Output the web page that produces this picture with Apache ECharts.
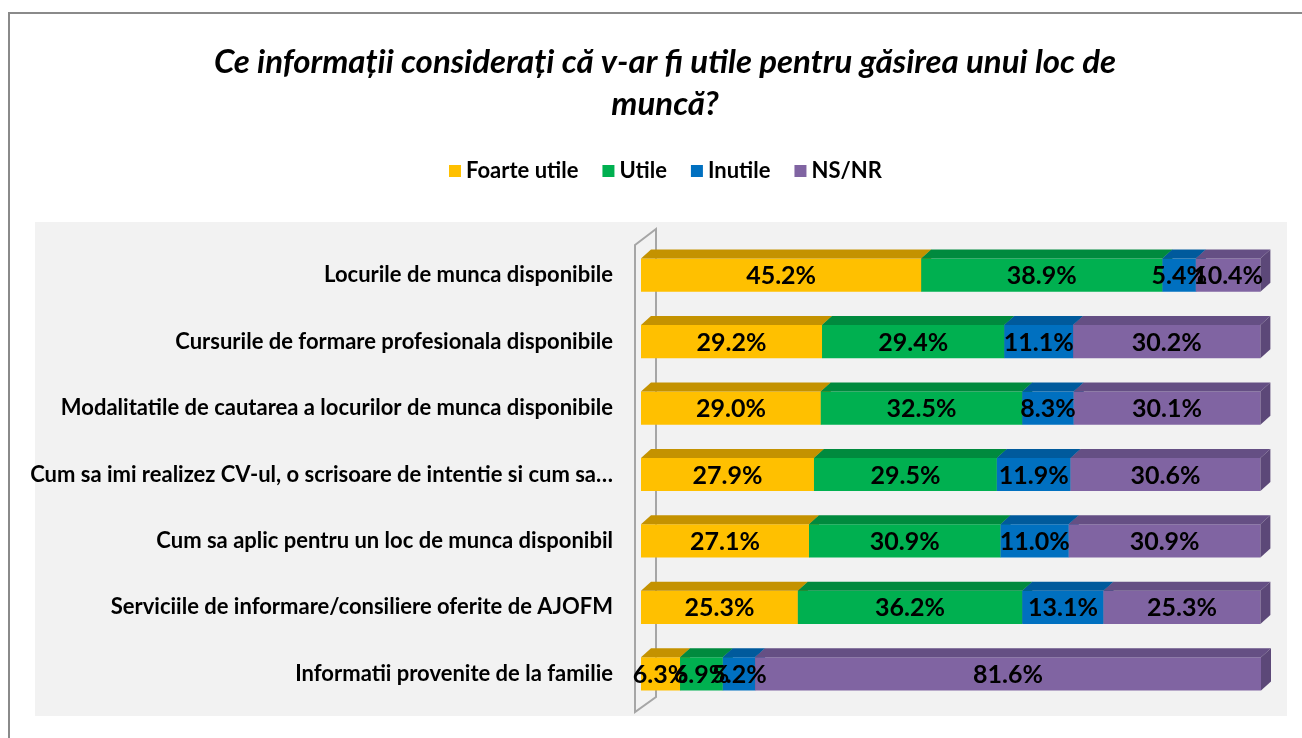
<!DOCTYPE html>
<html>
<head>
<meta charset="utf-8">
<script src="https://cdn.jsdelivr.net/npm/echarts@6/dist/echarts.min.js"></script>
<style>
  html, body { margin: 0; padding: 0; background: #fff; }
  #chart { width: 1302px; height: 738px; }
</style>
</head>
<body>
<div id="chart"></div>
<script>
// date
var categories = [
    'Locurile de munca disponibile',
    'Cursurile de formare profesionala disponibile',
    'Modalitatile de cautarea a locurilor de munca disponibile',
    'Cum sa imi realizez CV-ul, o scrisoare de intentie si cum sa…',
    'Cum sa aplic pentru un loc de munca disponibil',
    'Serviciile de informare/consiliere oferite de AJOFM',
    'Informatii provenite de la familie'
];
var seriesNames = ['Foarte utile', 'Utile', 'Inutile', 'NS/NR'];
var foarteUtile = [45.2, 29.2, 29.0, 27.9, 27.1, 25.3, 6.3];
var utile = [38.9, 29.4, 32.5, 29.5, 30.9, 36.2, 6.9];
var inutile = [5.4, 11.1, 8.3, 11.9, 11.0, 13.1, 5.2];
var nsnr = [10.4, 30.2, 30.1, 30.6, 30.9, 25.3, 81.6];

var frontColors = ['#FFC000', '#00B050', '#0070C0', '#8064A2'];
var topColors = ['#C49200', '#008A3E', '#005A9C', '#654F84'];
var sideColors = ['#B88800', '#007F38', '#00528E', '#5C4878'];

var chart = echarts.init(document.getElementById('chart'));
var allValues = [foarteUtile, utile, inutile, nsnr];
var DX = 10, DY = 9;

/*stivuire manuala: [start, end, categorie, valoare]*/
var stacked = allValues.map(function (vals, s) {
    return vals.map(function (v, i) {
        var start = 0;
        for (var k = 0; k < s; k++) { start += allValues[k][i]; }
        return [start, start + v, i, v];
    });
});

function makeRender(s) {
    return function (params, api) {
        var cat = api.value(2);
        var p0 = api.coord([api.value(0), cat]);
        var p1 = api.coord([api.value(1), cat]);
        var h = api.size([0, 1])[1] * 0.5;
        var x0 = p0[0], x1 = p1[0], yT = p0[1] - h / 2, yB = p0[1] + h / 2;
        var children = [
            { type: 'rect', shape: { x: x0, y: yT, width: x1 - x0, height: h }, style: { fill: frontColors[s] } },
            { type: 'polygon', shape: { points: [[x0, yT], [x0 + DX, yT - DY], [x1 + DX, yT - DY], [x1, yT]] }, style: { fill: topColors[s] } },
            { type: 'polygon', shape: { points: [[x1, yT], [x1 + DX, yT - DY], [x1 + DX, yB - DY], [x1, yB]] }, style: { fill: sideColors[s] } },
            {
                type: 'text', z2: 100,
                style: {
                    x: (x0 + x1) / 2, y: p0[1] + 1,
                    text: api.value(3).toFixed(1) + '%',
                    align: 'center', verticalAlign: 'middle',
                    fill: '#000', font: 'bold 25px Lato'
                }
            }
        ];
        return { type: 'group', children: children };
    };
}

var series = seriesNames.map(function (name, s) {
    return {
        name: name,
        type: 'custom',
        renderItem: makeRender(s),
        encode: { x: [0, 1], y: 2 },
        data: stacked[s],
        itemStyle: { color: frontColors[s] },
        animation: false,
        silent: true
    };
});

var option = {
    backgroundColor: '#fff',
    animation: false,
    title: {
        text: 'Ce informații considerați că v-ar fi utile pentru găsirea unui loc de\nmuncă?',
        left: 660,
        textAlign: 'center',
        top: 36,
        textStyle: { fontFamily: 'Lato', fontSize: 33, fontWeight: 'bold', fontStyle: 'italic', color: '#000', lineHeight: 42 }
    },
    legend: {
        data: seriesNames,
        top: 155,
        left: 444,
        icon: 'rect',
        itemWidth: 12,
        itemHeight: 12,
        itemGap: 24,
        textStyle: { fontFamily: 'Lato', fontSize: 22, fontWeight: 'bold', color: '#000' }
    },
    grid: { left: 641, top: 242, width: 620, height: 465 },
    xAxis: { type: 'value', min: 0, max: 100, show: false },
    yAxis: {
        type: 'category',
        data: categories,
        inverse: true,
        axisLine: { show: false },
        axisTick: { show: false },
        splitLine: { show: false },
        axisLabel: { margin: 28, color: '#000', fontFamily: 'Lato', fontSize: 22, fontWeight: 'bold' }
    },
    graphic: [
        { type: 'rect', z: -10, shape: { x: 9, y: 13, width: 1300, height: 740 }, style: { fill: 'none', stroke: '#8a8a8a', lineWidth: 2 } },
        { type: 'rect', z: -5, shape: { x: 35, y: 222, width: 1252, height: 494 }, style: { fill: '#f2f2f2' } },
        { type: 'polygon', z: -4, shape: { points: [[635, 245], [656, 229], [656, 697], [635, 712]] }, style: { fill: 'none', stroke: '#a6a6a6', lineWidth: 2 } }
    ],
    series: series
};
chart.setOption(option);
</script>
</body>
</html>
